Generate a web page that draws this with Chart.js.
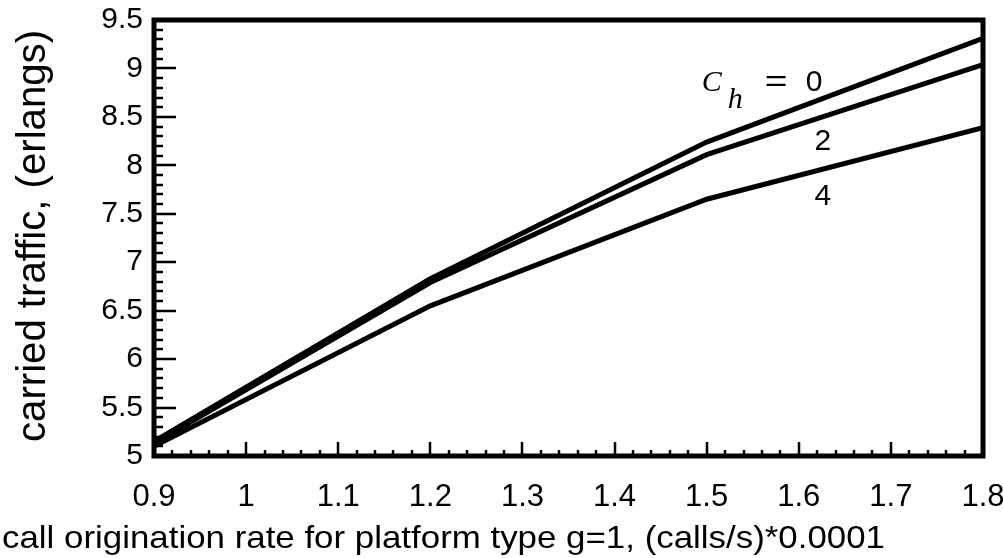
<!DOCTYPE html>
<html><head><meta charset="utf-8">
<script src="https://cdn.jsdelivr.net/npm/chart.js@4"></script>
<style>html,body{margin:0;padding:0;background:#fff}#wrap{width:1003px;height:558px}</style>
</head><body><div id="wrap"><canvas id="c" width="1003" height="558"></canvas></div>
<script>
// ---- data ----
const xValues = [0.9, 1.2, 1.5, 1.8];
const ch0 = [5.15, 6.83, 8.24, 9.31];
const ch2 = [5.13, 6.79, 8.11, 9.04];
const ch4 = [5.10, 6.55, 7.65, 8.39];
const xTickLabels = ['0.9','1','1.1','1.2','1.3','1.4','1.5','1.6','1.7','1.8'];
const yTickLabels = ['5','5.5','6','6.5','7','7.5','8','8.5','9','9.5'];
const seriesLabels = ['0', '2', '4'];
const xTitle = 'call origination rate for platform type g=1, (calls/s)*0.0001';
const yTitle = 'carried traffic, (erlangs)';

const FONT = '"Liberation Sans", Arial, Helvetica, sans-serif';
const toPts = ys => xValues.map((x, i) => ({x: x, y: ys[i]}));
const ds = (ys, lab) => ({label: lab, data: toPts(ys), borderColor: '#000', borderWidth: 5,
  pointRadius: 0, tension: 0, fill: false, borderJoinStyle: 'miter'});

const decor = {
  id: 'decor',
  afterDraw(chart) {
    const ctx = chart.ctx, a = chart.chartArea;
    const xs = chart.scales.x, ys = chart.scales.y;
    ctx.save();
    ctx.strokeStyle = '#000';
    // inward ticks
    ctx.lineWidth = 2.5;
    ctx.beginPath();
    for (let i = 0; i <= 45; i++) {
      const v = 5 + i * 0.1;
      const py = Math.round(ys.getPixelForValue(v));
      const len = (i % 5 === 0) ? 22 : 9;
      ctx.moveTo(a.left, py); ctx.lineTo(a.left + len, py);
    }
    for (let i = 0; i <= 45; i++) {
      const v = 0.9 + i * 0.02;
      const px = Math.round(xs.getPixelForValue(v));
      const len = (i % 5 === 0) ? 14 : 6;
      ctx.moveTo(px, a.bottom); ctx.lineTo(px, a.bottom - len);
    }
    ctx.stroke();
    // frame
    ctx.lineWidth = 5;
    ctx.strokeRect(a.left, a.top, a.right - a.left, a.bottom - a.top);
    // annotations
    ctx.fillStyle = '#000';
    ctx.textBaseline = 'alphabetic';
    ctx.textAlign = 'left';
    const P = (x, y) => [xs.getPixelForValue(x), ys.getPixelForValue(y)];
    let [cx, cy] = P(1.4946, 8.77);
    ctx.font = 'italic 30px "Liberation Serif", "Times New Roman", serif';
    ctx.fillText('C', cx, cy);
    ctx.fillText('h', cx + 26, cy + 17);
    ctx.font = '30px ' + FONT;
    ctx.save();
    ctx.scale(1.3, 1);
    ctx.fillText('=', (cx + 63) / 1.3, cy);
    ctx.restore();
    ctx.fillText(seriesLabels[0], cx + 104, cy);
    ctx.textAlign = 'center';
    let [x2, y2] = P(1.626, 8.16);
    ctx.fillText(seriesLabels[1], x2, y2);
    let [x4, y4] = P(1.626, 7.59);
    ctx.fillText(seriesLabels[2], x4, y4);
    // axis titles
    ctx.textAlign = 'left';
    ctx.font = '32px ' + FONT;
    let w = ctx.measureText(xTitle).width;
    ctx.save();
    ctx.translate(2, 548);
    ctx.scale(883 / w, 1);
    ctx.fillText(xTitle, 0, 0);
    ctx.restore();
    ctx.font = '41px ' + FONT;
    w = ctx.measureText(yTitle).width;
    ctx.save();
    ctx.translate(45, 442);
    ctx.rotate(-Math.PI / 2);
    ctx.scale(412 / w, 1);
    ctx.fillText(yTitle, 0, 0);
    ctx.restore();
    ctx.restore();
  }
};

new Chart(document.getElementById('c'), {
  type: 'line',
  data: { datasets: [ds(ch0, 'Ch=0'), ds(ch2, 'Ch=2'), ds(ch4, 'Ch=4')] },
  options: {
    responsive: false, animation: false, devicePixelRatio: 1,
    layout: { padding: { top: 20, right: 20, left: 0, bottom: 0 } },
    plugins: { legend: { display: false }, tooltip: { enabled: false } },
    scales: {
      x: {
        type: 'linear', min: 0.9, max: 1.8,
        afterBuildTicks: s => { s.ticks = xTickLabels.map(t => ({value: parseFloat(t)})); },
        afterFit: s => { s.height = 102; s.paddingLeft = 0; s.paddingRight = 0; },
        ticks: { color: '#000', font: { size: 31, family: FONT }, padding: 23, maxRotation: 0,
          autoSkip: false, callback: (v, i) => xTickLabels[i] },
        grid: { display: false, drawTicks: false }, border: { display: false }
      },
      y: {
        type: 'linear', min: 5, max: 9.5,
        afterBuildTicks: s => { s.ticks = yTickLabels.map(t => ({value: parseFloat(t)})); },
        afterFit: s => { s.width = 154; s.paddingTop = 0; s.paddingBottom = 0; },
        ticks: { color: '#000', font: { size: 30, family: FONT }, padding: 11,
          autoSkip: false, callback: (v, i) => yTickLabels[i] },
        grid: { display: false, drawTicks: false }, border: { display: false }
      }
    }
  },
  plugins: [decor]
});
</script>
</body></html>
